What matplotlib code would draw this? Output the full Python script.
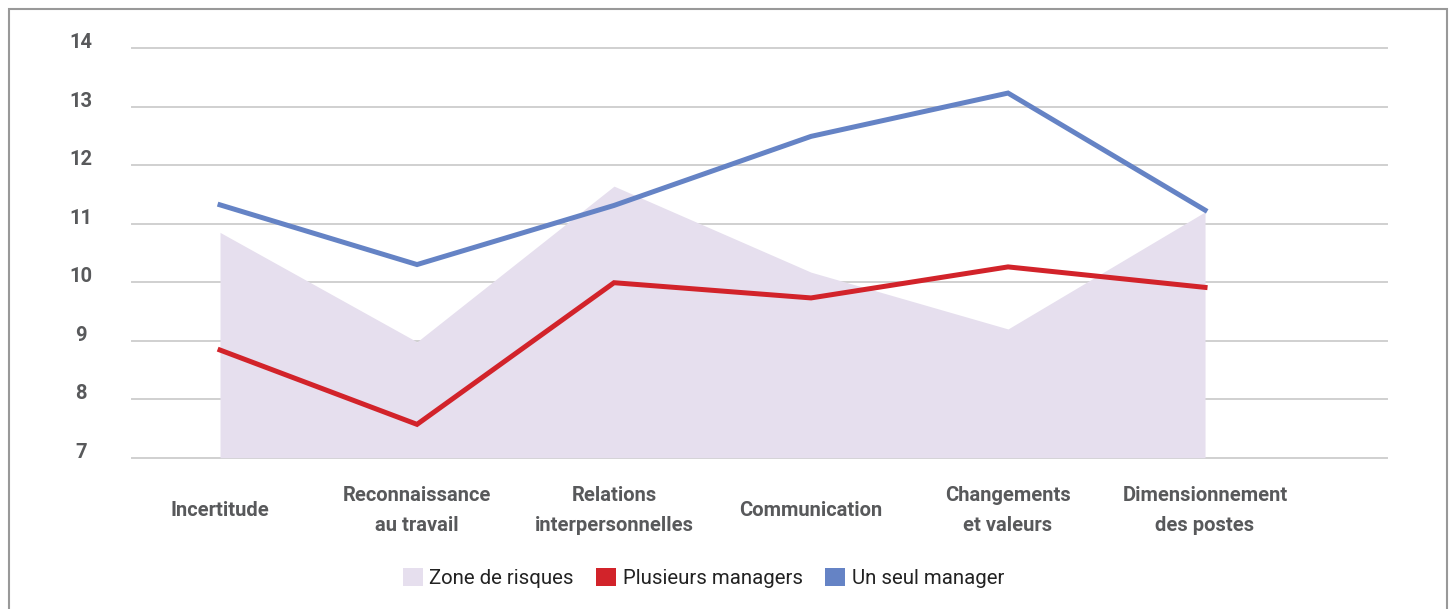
import matplotlib
matplotlib.use("Agg")
import matplotlib.pyplot as plt
from matplotlib.patches import Patch, Rectangle

plt.rcParams['font.family'] = ['Roboto', 'DejaVu Sans']

# data
categories = ["Incertitude", "Reconnaissance\nau travail", "Relations\ninterpersonnelles",
              "Communication", "Changements\net valeurs", "Dimensionnement\ndes postes"]
zone_risques = [10.85, 8.98, 11.64, 10.17, 9.20, 11.20]
plusieurs_managers = [8.84, 7.57, 9.99, 9.73, 10.26, 9.91]
un_seul_manager = [11.32, 10.30, 11.31, 12.49, 13.23, 11.23]
y_ticks = [7, 8, 9, 10, 11, 12, 13, 14]

zone_color = '#e6dfee'
red = '#d2232a'
blue = '#6583c5'
text_color = '#58595b'

fig = plt.figure(figsize=(14.5, 6.09), dpi=100)
ax = fig.add_axes([0.091, 0.2484, 0.8656, 0.6728])

x = list(range(len(categories)))
ax.fill_between(x, 7, zone_risques, color=zone_color, lw=0, zorder=1)
ax.plot(x, plusieurs_managers, color=red, lw=3.6, zorder=3, solid_joinstyle='miter')
ax.plot(x, un_seul_manager, color=blue, lw=3.6, zorder=3, solid_joinstyle='miter')

ax.set_ylim(7, 14)
ax.set_xlim(-0.447, 5.924)
ax.set_yticks(y_ticks)
ax.set_yticklabels([str(t) for t in y_ticks], fontsize=14.5, fontweight='bold',
                   color=text_color, ha='center', va='baseline')
ax.tick_params(axis='y', length=0, pad=36.7)
ax.set_xticks(x)
ax.set_xticklabels(categories, fontsize=14.5, fontweight='bold', color=text_color,
                   va='center', linespacing=1.7)
ax.tick_params(axis='x', length=0, pad=38)

ax.grid(axis='y', color='#d0d0d0', lw=1.4)
for gl in ax.get_ygridlines():
    gl.set_clip_on(False)
ax.set_axisbelow(True)
for s in ax.spines.values():
    s.set_visible(False)

handles = [Patch(facecolor=zone_color, edgecolor='none', label='Zone de risques'),
           Patch(facecolor=red, edgecolor='none', label='Plusieurs managers'),
           Patch(facecolor=blue, edgecolor='none', label='Un seul manager')]
leg = fig.legend(handles=handles, loc='center', bbox_to_anchor=(0.485, 0.051), ncol=3,
                 frameon=False, fontsize=14.7, handlelength=1.0, handleheight=1.0,
                 handletextpad=0.3, columnspacing=1.1)
for t in leg.get_texts():
    t.set_color('#222222')

# grey frame round the figure
fig.patches.append(Rectangle((9 / 1450, -0.1), 1438 / 1450, 1.1 - 9 / 609,
                             transform=fig.transFigure, fill=False,
                             edgecolor='#999999', lw=1.5))

fig.savefig('out.png', dpi=100)
